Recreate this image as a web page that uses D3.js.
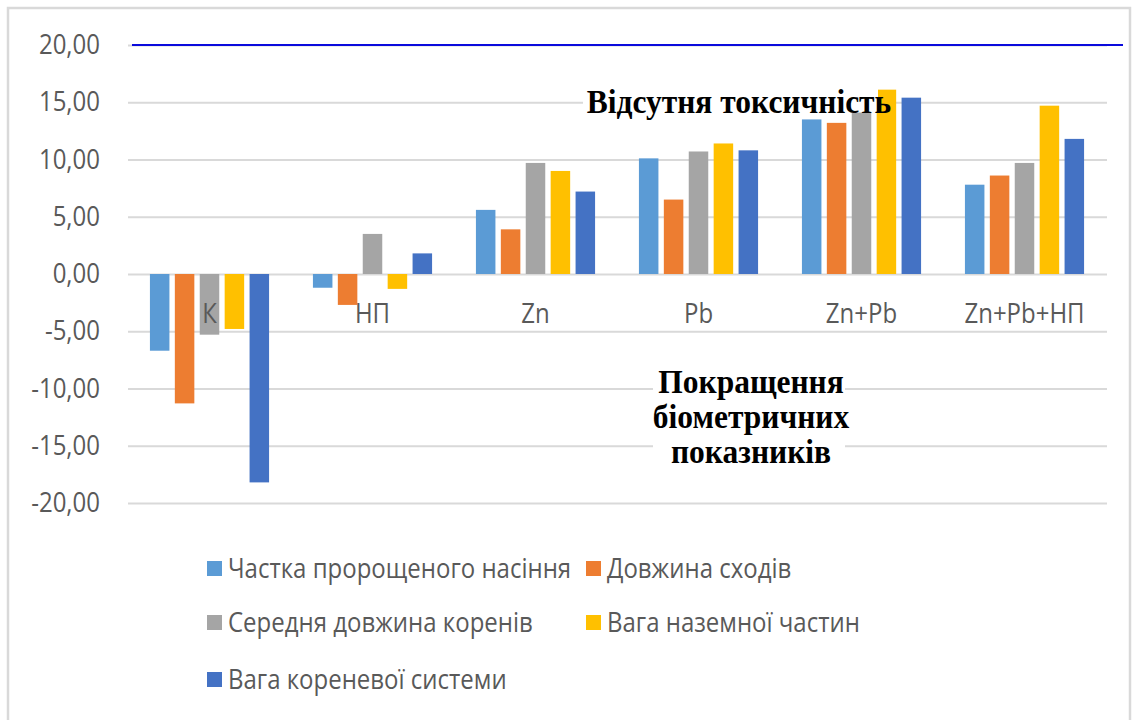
<!DOCTYPE html>
<html>
<head>
<meta charset="utf-8">
<script src="https://cdnjs.cloudflare.com/ajax/libs/d3/7.8.5/d3.min.js"></script>
<style>
  html, body { margin: 0; padding: 0; background: #fff; }
  svg { display: block; }
  .axis text, .cat-label, .legend text { font-family: "Open Sans", sans-serif; fill: #595959; }
  .note { font-family: "Liberation Serif", "Times New Roman", serif; font-weight: bold; fill: #000; }
</style>
</head>
<body>
<div id="chart"></div>
<script>
// chart data
const categories = ["К", "НП", "Zn", "Pb", "Zn+Pb", "Zn+Pb+НП"];
const seriesNames = ["Частка пророщеного насіння", "Довжина сходів", "Середня довжина коренів",
                     "Вага наземної частин", "Вага кореневої системи"];
const sproutedShare = [-6.7, -1.2, 5.6, 10.1, 13.5, 7.8];
const shootLength   = [-11.3, -2.7, 3.9, 6.5, 13.2, 8.6];
const rootLength    = [-5.3, 3.5, 9.7, 10.7, 14.1, 9.7];
const topWeight     = [-4.8, -1.3, 9.0, 11.4, 16.1, 14.7];
const rootWeight    = [-18.2, 1.8, 7.2, 10.8, 15.4, 11.8];
const yTicks = [20, 15, 10, 5, 0, -5, -10, -15, -20];
const toxicLimit = 20;
const noteTop = "Відсутня токсичність";
const noteBottom = ["Покращення", "біометричних", "показників"];

const colors = ["#5b9bd5", "#ed7d31", "#a5a5a5", "#ffc000", "#4472c4"];
const allSeries = [sproutedShare, shootLength, rootLength, topWeight, rootWeight];

const width = 1139, height = 720;
const stretch = "scale(1,1.12)";
const svg = d3.select("#chart").append("svg")
    .attr("width", width)
    .attr("height", height);

// outer frame
svg.append("rect")
    .attr("x", 8).attr("y", 8)
    .attr("width", 1122).attr("height", 730)
    .attr("fill", "none")
    .attr("stroke", "#d9d9d9")
    .attr("stroke-width", 2.5);

let x0 = d3.scaleBand()
    .domain(categories)
    .range([128, 1106])
    .paddingInner(0.236)
    .paddingOuter(0.118);
let x1 = d3.scaleBand()
    .domain(d3.range(seriesNames.length))
    .range([0, x0.bandwidth()])
    .paddingInner(0.217)
    .paddingOuter(0.108);
let y = d3.scaleLinear()
    .domain([-20, 20])
    .range([503, 45]);

const locale = d3.formatLocale({ decimal: ",", thousands: " ", grouping: [3], currency: ["", ""], minus: "-" });
const fmt = locale.format(".2f");

// y axis with grid
const yAxis = svg.append("g")
    .attr("class", "axis")
    .attr("transform", "translate(128,0)")
    .call(d3.axisLeft(y).tickValues(yTicks).tickFormat(fmt).tickSize(-(1107 - 128)).tickPadding(28));
yAxis.select(".domain").remove();
yAxis.selectAll(".tick line").attr("stroke", "#d9d9d9").attr("stroke-width", 2);
yAxis.selectAll(".tick text").attr("font-size", 24).attr("dy", "0.32em").attr("transform", stretch);

// blue threshold line
svg.append("line")
    .attr("x1", 132).attr("x2", 1123)
    .attr("y1", y(toxicLimit)).attr("y2", y(toxicLimit))
    .attr("stroke", "#0a0adc")
    .attr("stroke-width", 2);

// bars
const groups = svg.selectAll(".group")
    .data(categories)
    .enter().append("g")
    .attr("class", "group")
    .attr("transform", function (d) { return "translate(" + x0(d) + ",0)"; });

groups.selectAll("rect")
    .data(function (d, i) { return allSeries.map(function (s, j) { return { s: j, v: s[i] }; }); })
    .enter().append("rect")
    .attr("x", function (d) { return x1(d.s); })
    .attr("width", x1.bandwidth())
    .attr("y", function (d) { return y(Math.max(0, d.v)); })
    .attr("height", function (d) { return Math.abs(y(d.v) - y(0)); })
    .attr("fill", function (d) { return colors[d.s]; });

// category labels
svg.selectAll(".cat-label")
    .data(categories)
    .enter().append("text")
    .attr("class", "cat-label")
    .attr("transform", function (d) { return "translate(" + (x0(d) + x0.bandwidth() / 2) + ",323) " + stretch; })
    .attr("text-anchor", "middle")
    .attr("font-size", 24)
    .text(function (d) { return d; });

// annotations
svg.append("rect")
    .attr("x", 583).attr("y", 86).attr("width", 295).attr("height", 26)
    .attr("fill", "#fff");
svg.append("text")
    .attr("class", "note")
    .attr("transform", "translate(739,113) scale(1,1.08)")
    .attr("text-anchor", "middle")
    .attr("font-size", 31.5)
    .text(noteTop);

svg.append("rect")
    .attr("x", 653).attr("y", 366).attr("width", 192).attr("height", 104)
    .attr("fill", "#fff");
svg.selectAll(".note-b")
    .data(noteBottom)
    .enter().append("text")
    .attr("class", "note note-b")
    .attr("transform", function (d, i) { return "translate(751," + (393 + i * 35) + ") scale(1,1.08)"; })
    .attr("text-anchor", "middle")
    .attr("font-size", 31.5)
    .text(function (d) { return d; });

// legend
const legendPos = [[207, 569], [586, 569], [207, 623], [586, 623], [207, 680]];
const legend = svg.selectAll(".legend")
    .data(seriesNames)
    .enter().append("g")
    .attr("class", "legend")
    .attr("transform", function (d, i) { return "translate(" + legendPos[i][0] + "," + legendPos[i][1] + ")"; });
legend.append("rect")
    .attr("x", 0).attr("y", -8)
    .attr("width", 15).attr("height", 15)
    .attr("fill", function (d, i) { return colors[i]; });
legend.append("text")
    .attr("x", 21).attr("y", 0)
    .attr("dy", "0.34em")
    .attr("transform", stretch)
    .attr("font-size", 24)
    .text(function (d) { return d; });
</script>
</body>
</html>
